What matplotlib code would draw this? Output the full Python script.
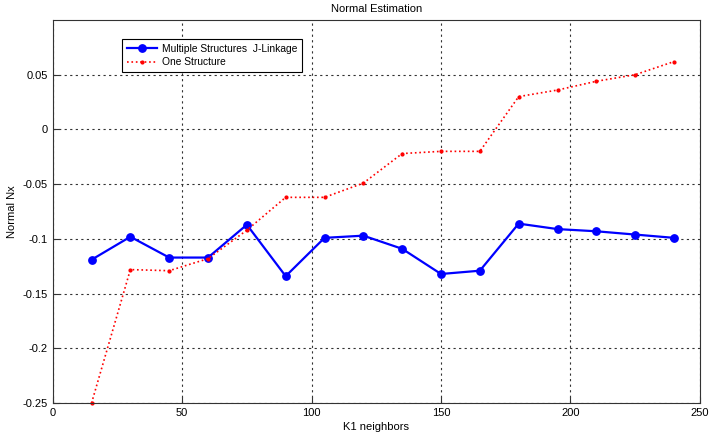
import matplotlib
matplotlib.use("Agg")
import matplotlib.pyplot as plt

plt.rcParams['font.family'] = ['Liberation Sans', 'DejaVu Sans']
plt.rcParams['font.size'] = 8

k_neighbors = [15, 30, 45, 60, 75, 90, 105, 120, 135, 150, 165, 180, 195, 210, 225, 240]
multi_jlinkage = [-0.119, -0.098, -0.117, -0.117, -0.087, -0.134, -0.099, -0.097,
                  -0.109, -0.132, -0.129, -0.086, -0.091, -0.093, -0.096, -0.099]
one_structure = [-0.25, -0.128, -0.129, -0.118, -0.092, -0.062, -0.062, -0.049,
                 -0.022, -0.020, -0.020, 0.030, 0.036, 0.044, 0.050, 0.062]

x_ticks = [0, 50, 100, 150, 200, 250]
y_ticks = [-0.25, -0.2, -0.15, -0.1, -0.05, 0, 0.05]
y_labels = ['-0.25', '-0.2', '-0.15', '-0.1', '-0.05', '0', '0.05']

fig = plt.figure(figsize=(7.12, 4.34), dpi=100)
ax = fig.add_axes([0.074, 0.071, 0.909, 0.883])

ax.plot(k_neighbors, multi_jlinkage, color='#0000ff', lw=1.6, marker='o', ms=5.3,
        label='Multiple Structures  J-Linkage', clip_on=False)
ax.plot(k_neighbors, one_structure, color='#ff0000', lw=1.2, ls=':', marker='.', ms=4,
        label='One Structure', clip_on=False)

ax.set_xlim(0, 250)
ax.set_ylim(-0.25, 0.1)
ax.set_xticks(x_ticks)
ax.set_yticks(y_ticks)
ax.set_yticklabels(y_labels)
ax.tick_params(direction='in', length=4, color='#333333')
ax.grid(True, color='#333333', ls=(0, (2, 3)), lw=0.8)
for s in ax.spines.values():
    s.set_color('#333333')

ax.set_title('Normal Estimation', fontsize=8, pad=6)
ax.set_xlabel('K1 neighbors', labelpad=3)
ax.set_ylabel('Normal Nx', labelpad=4)

leg = ax.legend(loc='upper left', bbox_to_anchor=(0.107, 0.95), borderaxespad=0,
                fancybox=False, framealpha=1, edgecolor='black', borderpad=0.45,
                handlelength=3, handletextpad=0.4, labelspacing=0.35, fontsize=7.4)
leg.get_frame().set_linewidth(0.8)

fig.savefig('out.png', dpi=100)
